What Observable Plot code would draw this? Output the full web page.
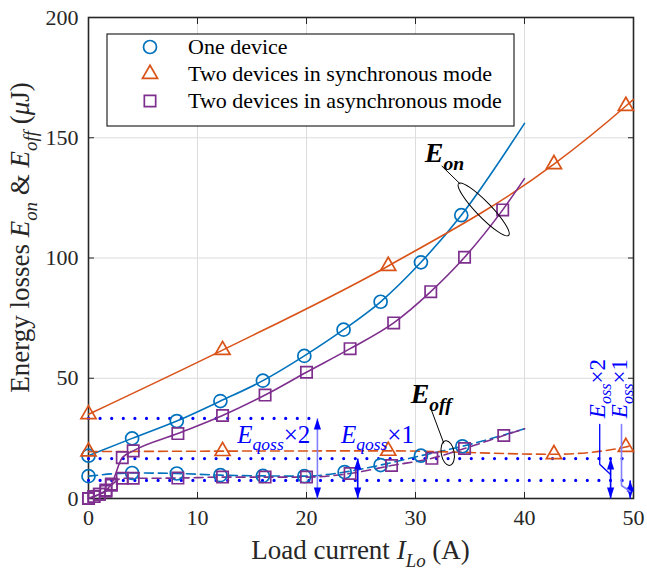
<!DOCTYPE html>
<html lang="en"><head><meta charset="utf-8">
<script src="https://cdn.jsdelivr.net/npm/d3@7"></script>
<script src="https://cdn.jsdelivr.net/npm/@observablehq/plot@0.6"></script>
</head><body style="margin:0;background:#fff"><div id="chart" style="font-family:'Liberation Serif',serif"></div>
<script>
// ---------- data ----------
const xTicks = [0, 10, 20, 30, 40, 50];
const yTicks = [0, 50, 100, 150, 200];

// One device
const oneX      = [0, 4.0, 8.1, 12.1, 16.0, 19.8, 23.4, 26.8, 30.5, 34.2];
const oneEon    = [17.8, 25.0, 32.2, 40.5, 49.0, 59.3, 70.2, 81.8, 98.2, 117.8];
const oneEoffX  = [0, 4.0, 8.1, 12.1, 16.0, 19.8, 23.5, 26.8, 30.5, 34.3];
const oneEoff   = [9.3, 10.6, 10.4, 9.7, 9.4, 9.3, 11.0, 13.9, 17.8, 21.7];
const oneEonFitEnd  = [40, 156];
const oneEoffFitEnd = [40, 29];

// Two devices, synchronous
const syncX     = [0, 12.3, 27.5, 42.7, 49.3];
const syncEon   = [35.0, 61.7, 96.7, 139.0, 163.2];
const syncEoff  = [19.5, 19.7, 19.8, 18.4, 21.4];
const syncEonFitEnd  = [50, 166];
const syncEoffFitEnd = [50, 22.2];

// Two devices, asynchronous
const asyncEonX  = [0, 0.5, 1.0, 1.6, 2.1, 3.1, 4.1, 8.2, 12.3, 16.2, 20.0, 24.0, 28.0, 31.4, 34.5, 38.0];
const asyncEon   = [0, 0.8, 1.8, 3.5, 6.0, 17.0, 19.8, 27.0, 34.5, 43.0, 52.5, 62.3, 73.0, 86.0, 100.3, 120.0];
const asyncEoffX = [0, 0.5, 1.0, 1.6, 2.1, 3.1, 4.1, 8.2, 12.3, 16.2, 20.0, 24.0, 27.8, 31.5, 34.5, 38.1];
const asyncEoff  = [0, 0.8, 1.8, 3.0, 5.5, 8.4, 8.4, 8.5, 8.9, 8.9, 8.9, 10.4, 13.7, 16.7, 20.8, 26.2];
const asyncEonFitEnd  = [40, 133];
const asyncEoffFitEnd = [40, 29];

// Annotation levels (µJ)
const dotLevels = [33.3, 16.6, 7.5];
const dotEnds   = [21, 50, 50];
const arrowX    = [21, 24.7, 47.9, 49.7];
const arrowTop  = [33.3, 16.6, 16.6, 7.5];
const arrowLight = [true, false, false, false];

const seriesNames = ["One device", "Two devices in synchronous mode", "Two devices in asynchronous mode"];

// ---------- styles ----------
const blue = "#0072BD", orange = "#D95319", purple = "#7E2F8E";
const ann = "#0000FF", annLight = "#8080FF", ink = "#262626";
const FONT = "Liberation Serif, serif";

const pts = (xs, ys) => xs.map((x, i) => ({x, y: ys[i]}));
const fit = (xs, ys, end) => pts(xs, ys).concat([{x: end[0], y: end[1]}]);

const arrowHead = {draw(ctx, size) { ctx.moveTo(0, 0); ctx.lineTo(-3.6, 11); ctx.lineTo(3.6, 11); ctx.closePath(); }};

const dotsData = dotLevels.map((y, i) => ({y, x1: 0, x2: dotEnds[i]}));
const arrowsData = arrowX.map((x, i) => ({x, y1: 0, y2: arrowTop[i], light: arrowLight[i]}));

const lineW = 1.6, dash = "9,5";

const plot = Plot.plot({
  width: 647, height: 574,
  marginLeft: 88, marginRight: 14, marginTop: 17, marginBottom: 76,
  x: {domain: [0, 50]},
  y: {domain: [0, 200]},
  style: {fontFamily: FONT, fontSize: "22px"},
  marks: [
    Plot.gridX(xTicks, {stroke: "#dcdcdc", strokeOpacity: 1, strokeWidth: 1}),
    Plot.gridY(yTicks, {stroke: "#dcdcdc", strokeOpacity: 1, strokeWidth: 1}),
    Plot.frame({stroke: ink, strokeWidth: 1.6}),
    Plot.axisX(xTicks, {anchor: "bottom", tickSize: -6, tickPadding: 17, label: null, stroke: ink, fill: ink, fontFamily: FONT, fontSize: 22}),
    Plot.axisX(xTicks, {anchor: "top", tickSize: -6, tickFormat: () => "", label: null, stroke: ink}),
    Plot.axisY(yTicks, {anchor: "left", tickSize: -6, tickPadding: 16, label: null, stroke: ink, fill: ink, fontFamily: FONT, fontSize: 22}),
    Plot.axisY(yTicks, {anchor: "right", tickSize: -6, tickFormat: () => "", label: null, stroke: ink}),

    // blue dotted annotation levels
    Plot.link(dotsData, {x1: "x1", x2: "x2", y1: "y", y2: "y", stroke: ann, strokeWidth: 3.2, strokeDasharray: "0,11.6", strokeLinecap: "round"}),

    // One device
    Plot.line(fit(oneX, oneEon, oneEonFitEnd), {x: "x", y: "y", stroke: blue, strokeWidth: lineW, curve: "monotone-x"}),
    Plot.line(fit(oneEoffX, oneEoff, oneEoffFitEnd), {x: "x", y: "y", stroke: blue, strokeWidth: lineW, strokeDasharray: dash, curve: "monotone-x"}),
    // Synchronous
    Plot.line(fit(syncX, syncEon, syncEonFitEnd), {x: "x", y: "y", stroke: orange, strokeWidth: lineW, curve: "monotone-x"}),
    Plot.line(fit(syncX, syncEoff, syncEoffFitEnd), {x: "x", y: "y", stroke: orange, strokeWidth: lineW, strokeDasharray: dash, curve: "monotone-x"}),
    // Asynchronous
    Plot.line(fit(asyncEonX, asyncEon, asyncEonFitEnd), {x: "x", y: "y", stroke: purple, strokeWidth: lineW, curve: "monotone-x"}),
    Plot.line(fit(asyncEoffX, asyncEoff, asyncEoffFitEnd), {x: "x", y: "y", stroke: purple, strokeWidth: lineW, strokeDasharray: dash, curve: "monotone-x"}),

    Plot.dot(pts(oneX, oneEon), {x: "x", y: "y", r: 6.5, stroke: blue, strokeWidth: 1.7, fill: "none"}),
    Plot.dot(pts(oneEoffX, oneEoff), {x: "x", y: "y", r: 6.5, stroke: blue, strokeWidth: 1.7, fill: "none"}),
    Plot.dot(pts(syncX, syncEon), {x: "x", y: "y", symbol: "triangle", r: 5.6, stroke: orange, strokeWidth: 1.7, fill: "none"}),
    Plot.dot(pts(syncX, syncEoff), {x: "x", y: "y", symbol: "triangle", r: 5.6, stroke: orange, strokeWidth: 1.7, fill: "none"}),
    Plot.dot(pts(asyncEonX, asyncEon), {x: "x", y: "y", symbol: "square", r: 6.4, stroke: purple, strokeWidth: 1.7, fill: "none"}),
    Plot.dot(pts(asyncEoffX, asyncEoff), {x: "x", y: "y", symbol: "square", r: 6.4, stroke: purple, strokeWidth: 1.7, fill: "none"}),

    // vertical double arrows
    Plot.link(arrowsData, {x1: "x", x2: "x", y1: "y1", y2: "y2", stroke: d => d.light ? annLight : ann, strokeWidth: 1.6}),
    Plot.dot(arrowsData, {x: "x", y: "y2", symbol: arrowHead, fill: ann, stroke: "none"}),
    Plot.dot(arrowsData, {x: "x", y: "y1", symbol: arrowHead, rotate: 180, fill: ann, stroke: "none"}),
    // leader lines of the right-hand labels
    Plot.line([{x: 46.9, y: 30.8}, {x: 46.9, y: 14.2}, {x: 47.9, y: 10}], {x: "x", y: "y", stroke: ann, strokeWidth: 1.3}),
    Plot.line([{x: 48.9, y: 30.8}, {x: 48.9, y: 5.4}, {x: 49.7, y: 2.9}], {x: "x", y: "y", stroke: annLight, strokeWidth: 1.6}),
    // leader lines of E_on / E_off
    Plot.link([{x1: 32.4, y1: 138.3, x2: 34.1, y2: 130.8}, {x1: 31.4, y1: 37.5, x2: 32.6, y2: 22.9}],
      {x1: "x1", y1: "y1", x2: "x2", y2: "y2", stroke: "black", strokeWidth: 1})
  ]
});

document.getElementById("chart").appendChild(plot);

// ---------- annotations drawn with Plot's scales ----------
const sx = plot.scale("x"), sy = plot.scale("y");
const X = v => sx.apply(v), Y = v => sy.apply(v);
const svg = d3.select(plot);
const g = svg.append("g");

function rich(parent, x, y, parts, size, attrs = {}) {
  const t = parent.append("text").attr("x", x).attr("y", y).attr("font-size", size)
    .attr("text-anchor", "start").attr("font-family", FONT);
  Object.entries(attrs).forEach(([k, v]) => t.attr(k, v));
  let shift = 0;
  parts.forEach(p => {
    const ts = t.append("tspan").text(p.t);
    if (p.i) ts.attr("font-style", "italic");
    if (p.b) ts.attr("font-weight", "bold");
    const target = p.sub ? size * 0.28 : 0;
    if (target !== shift) { ts.attr("dy", target - shift); shift = target; }
    if (p.sub) ts.attr("font-size", size * 0.7);
  });
  return t;
}

// ellipses
g.append("ellipse").attr("cx", 0).attr("cy", 0).attr("rx", 36).attr("ry", 7.5)
  .attr("transform", `translate(${X(36.3)},${Y(120)}) rotate(46)`)
  .attr("fill", "none").attr("stroke", "black").attr("stroke-width", 1);
g.append("ellipse").attr("cx", 0).attr("cy", 0).attr("rx", 6.5).attr("ry", 12.5)
  .attr("transform", `translate(${X(33.0)},${Y(18.7)}) rotate(-10)`)
  .attr("fill", "none").attr("stroke", "black").attr("stroke-width", 1);

// E_on / E_off labels
rich(g, X(30.9), Y(139.6), [{t: "E", i: 1, b: 1}, {t: "on", i: 1, b: 1, sub: 1}], 28, {fill: "black"});
rich(g, X(29.6), Y(39.6), [{t: "E", i: 1, b: 1}, {t: "off", i: 1, b: 1, sub: 1}], 28, {fill: "black"});

// E_qoss labels
rich(g, X(13.7), Y(22.9), [{t: "E", i: 1}, {t: "qoss", i: 1, sub: 1}, {t: "×2"}], 25, {fill: ann});
rich(g, X(23.2), Y(22.9), [{t: "E", i: 1}, {t: "qoss", i: 1, sub: 1}, {t: "×1"}], 25, {fill: ann});

// E_oss rotated labels
[[46.6, "×2"], [48.6, "×1"]].forEach(([xv, s]) => {
  const x = X(xv) + 9, y = Y(33.2);
  rich(g, x, y, [{t: "E", i: 1}, {t: "oss", i: 1, sub: 1}, {t: s}], 23, {fill: ann, transform: `rotate(-90,${x},${y})`});
});

// axis labels
const xl = rich(g, 0, 0, [{t: "Load current "}, {t: "I", i: 1}, {t: "Lo", i: 1, sub: 1}, {t: " (A)"}], 27, {fill: ink});
xl.attr("text-anchor", "middle").attr("x", X(25)).attr("y", 559);
const ylx = 29, yly = Y(100) - 20;
rich(g, ylx, yly, [{t: "Energy losses "}, {t: "E", i: 1}, {t: "on", i: 1, sub: 1}, {t: " & "}, {t: "E", i: 1}, {t: "off", i: 1, sub: 1}, {t: " ("}, {t: "μ", i: 1}, {t: "J)"}], 27,
  {fill: ink, "text-anchor": "middle", transform: `rotate(-90,${ylx},${yly})`});

// legend
const lg = g.append("g");
lg.append("rect").attr("x", 107).attr("y", 34).attr("width", 407).attr("height", 92)
  .attr("fill", "white").attr("stroke", ink).attr("stroke-width", 1.2);
const rows = [47, 74, 101];
const mx = 150;
lg.append("circle").attr("cx", mx).attr("cy", rows[0]).attr("r", 6.5).attr("fill", "none").attr("stroke", blue).attr("stroke-width", 1.7);
lg.append("path").attr("d", d3.symbol(d3.symbolTriangle, Math.PI * 5.6 * 5.6)()).attr("transform", `translate(${mx},${rows[1]})`).attr("fill", "none").attr("stroke", orange).attr("stroke-width", 1.7);
lg.append("path").attr("d", d3.symbol(d3.symbolSquare, Math.PI * 6.4 * 6.4)()).attr("transform", `translate(${mx},${rows[2]})`).attr("fill", "none").attr("stroke", purple).attr("stroke-width", 1.7);
seriesNames.forEach((s, i) => {
  lg.append("text").attr("x", 188).attr("y", rows[i] + 7).attr("font-size", 22).attr("fill", "black")
    .attr("text-anchor", "start").attr("font-family", FONT).text(s);
});
</script>
</body></html>
